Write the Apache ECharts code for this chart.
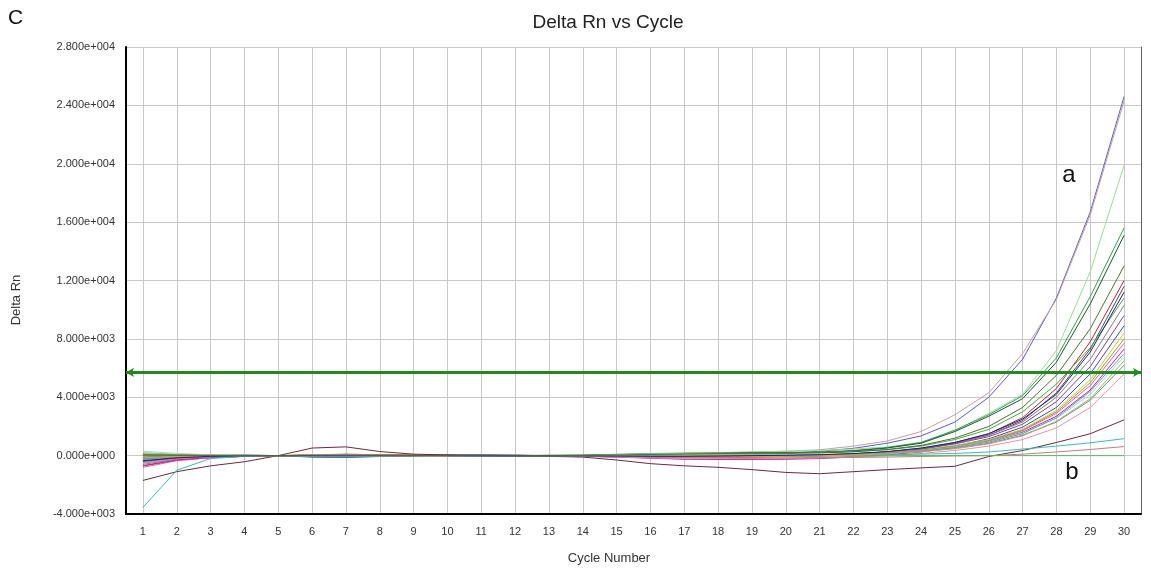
<!DOCTYPE html>
<html>
<head>
<meta charset="utf-8">
<script src="https://cdn.jsdelivr.net/npm/echarts@6/dist/echarts.min.js"></script>
<style>
html,body{margin:0;padding:0;background:#fff;}
#chart{width:1151px;height:569px;}
</style>
</head>
<body>
<div id="chart"></div>
<script>
// ---- data ----
const cycles = [1,2,3,4,5,6,7,8,9,10,11,12,13,14,15,16,17,18,19,20,21,22,23,24,25,26,27,28,29,30];
const yTicks = [-4000,0,4000,8000,12000,16000,20000,24000,28000];
const threshold = 5700;

const s01 = [-300,-100,0,50,0,-80,-100,-50,0,20,50,30,0,-50,-100,-80,-50,0,50,150,300,500,850,1350,2300,4000,6600,10800,16700,24600];
const s02 = [200,100,50,20,0,0,30,50,30,0,0,20,0,0,50,100,150,200,250,300,400,650,1000,1650,2800,4300,7000,10700,16500,24300];
const s03 = [-400,-150,-50,0,0,50,80,50,20,0,-20,0,20,50,100,150,200,200,250,300,350,450,600,900,1700,2900,4200,7200,12600,19900];
const s04 = [100,50,20,0,0,-30,-50,0,20,30,0,-20,-20,0,50,100,150,180,200,220,250,350,550,900,1750,2800,4100,6700,10900,15600];
const s05 = [-200,-80,-30,0,0,20,0,-20,0,10,0,0,10,30,80,120,150,150,180,200,220,320,520,850,1650,2700,3900,6400,10400,15100];
const s06 = [-700,-300,-150,-50,0,50,100,60,30,0,-30,-50,-20,0,-50,-100,-150,-150,-100,-50,0,100,250,500,900,1500,2600,4600,7800,12000];
const s07 = [-500,-200,-100,-30,0,0,-20,-30,0,20,0,-20,0,0,-30,-80,-100,-100,-80,-50,0,80,200,450,850,1400,2400,4300,7300,11600];
const s08 = [0,30,30,20,0,-50,-60,-30,0,0,20,0,-10,0,30,60,100,120,150,170,200,280,400,650,1100,1800,3000,4900,7400,10800];
const s09 = [-600,-250,-100,-50,0,30,50,30,0,-20,-30,0,20,20,0,-30,-50,-50,-30,0,50,120,250,480,850,1400,2300,4000,6600,10300];
const s10 = [-100,-30,0,0,0,-100,-120,-60,0,30,50,20,0,-20,-50,-80,-100,-100,-80,-60,-30,50,150,350,650,1150,1950,3300,5600,8900];
const s11 = [-300,-100,-50,0,0,20,30,20,0,-10,0,10,0,-20,-50,-50,-30,0,30,50,80,150,250,400,700,1100,1800,3100,5200,8400];
const s12 = [-800,-350,-150,-50,0,10,20,10,0,0,-20,-20,-10,-20,-80,-150,-200,-220,-220,-200,-150,-50,100,300,600,1000,1700,2900,4800,7700];
const s13 = [-700,-300,-120,-40,0,0,50,40,20,0,-20,-30,-20,-30,-100,-180,-250,-260,-260,-250,-200,-100,50,250,550,950,1600,2700,4500,7300];
const s14 = [300,150,50,20,0,0,-20,-20,0,0,20,20,0,0,60,120,150,130,100,80,60,100,200,350,600,950,1550,2550,4200,6800];
const s15 = [-200,-100,-50,0,0,30,20,0,0,10,20,0,0,-10,-40,-60,-50,-40,-20,0,30,80,160,300,500,850,1400,2300,3800,6200];
const s16 = [-500,-200,-80,-20,0,0,0,0,10,10,0,-10,-10,-30,-100,-150,-200,-200,-200,-180,-150,-100,0,150,350,650,1100,1900,3300,5600];
const s17 = [-1700,-1100,-700,-420,0,520,600,280,100,50,0,-50,-50,-100,-300,-550,-700,-800,-960,-1150,-1240,-1100,-960,-840,-730,-60,350,900,1500,2450];
const s18 = [-3550,-1000,-200,-50,0,0,30,20,0,0,-10,0,20,10,0,-30,-50,-50,-30,-20,0,30,60,100,150,250,450,650,880,1160];
const s19 = [-400,-150,-60,-20,0,20,30,20,0,0,0,-10,0,0,-50,-100,-120,-140,-150,-150,-140,-120,-100,-60,-20,0,100,250,420,620];
const s20 = [-100,-50,-20,0,0,-10,-20,-10,0,0,0,-10,-10,-20,-40,-50,-60,-60,-50,-40,-30,-20,-10,0,0,0,0,0,0,0];
const s21 = [-400,-150,-50,0,0,-30,-40,-20,0,20,30,20,0,-20,-40,-60,-60,-40,-20,0,40,120,250,450,800,1300,2150,3700,6100,9600];
const s22 = [100,60,30,10,0,-20,-30,-10,0,0,10,10,0,0,20,40,50,50,40,30,30,100,200,380,650,1050,1750,3000,5000,8000];
const s23 = [-250,-100,-40,0,0,-60,-80,-40,0,10,0,-10,0,0,-20,-40,-50,-40,-20,0,20,80,170,320,560,920,1500,2600,4400,7000];
const s24 = [-150,-60,-20,0,0,40,50,30,10,0,0,10,10,0,-30,-60,-80,-80,-60,-40,-20,40,130,260,470,800,1350,2350,3900,6500];
const s25 = [-350,-150,-50,-10,0,10,20,10,0,0,0,0,0,-10,-30,-50,-50,-30,0,20,60,140,280,520,900,1500,2500,4200,7100,11200];
const s26 = [50,20,10,0,0,-10,-10,0,10,0,-10,-10,0,10,40,80,120,140,160,170,190,260,420,700,1200,2000,3300,5500,8700,13000];

const seriesValues = [s01,s02,s03,s04,s05,s06,s07,s08,s09,s10,s11,s12,s13,s14,s15,s16,s17,s18,s19,s20,s21,s22,s23,s24,s25,s26];
const seriesColors = ['#5a5ad0','#c8a0a0','#98dc98','#30a050','#1a5a34','#c02040','#505050','#40b040','#808080','#3050c0',
  '#d8c820','#e060b0','#d02090','#90e0e0','#40a0a0','#e090c0','#702838','#30c0c0','#c08080','#60b860',
  '#8040c0','#a0a030','#60a0e0','#e0a040','#202080','#507030'];

function fmtSci(v){
  if (v === 0) return '0.000e+000';
  const a = Math.abs(v);
  const e = Math.floor(Math.log10(a) + 1e-9);
  const m = v / Math.pow(10, e);
  return m.toFixed(3) + 'e+' + String(e).padStart(3,'0');
}

const FONT = "'Liberation Sans', Arial, sans-serif";
const chart = echarts.init(document.getElementById('chart'), null, {renderer:'canvas'});

const series = seriesValues.map((vals, k) => ({
  type: 'line',
  data: cycles.map((c, i) => [c, vals[i]]),
  showSymbol: false,
  symbol: 'none',
  lineStyle: {width: 1, color: seriesColors[k]},
  itemStyle: {color: seriesColors[k]},
  silent: true,
  animation: false,
  z: 3
}));
series.push({
  type: 'line',
  data: [],
  silent: true,
  animation: false,
  z: 5,
  markLine: {
    silent: true,
    symbol: ['arrow','arrow'],
    symbolSize: [7, 8],
    label: {show: false},
    lineStyle: {color: '#1e8c1e', width: 3, type: 'solid'},
    data: [{yAxis: threshold}],
    animation: false
  }
});

chart.setOption({
  animation: false,
  backgroundColor: '#fff',
  grid: {left: 126, right: 10, top: 47, bottom: 55, containLabel: false},
  xAxis: {
    type: 'value', min: 0.5, max: 30.5,
    axisLine: {show: true, onZero: false, lineStyle: {color: '#000', width: 2}},
    axisTick: {show: false, customValues: cycles},
    axisLabel: {customValues: cycles, color: '#333', fontSize: 11, fontFamily: FONT, margin: 12},
    splitLine: {show: true, lineStyle: {color: '#c8c8c8', width: 1}}
  },
  yAxis: [{
    type: 'value', min: -4000, max: 28000, interval: 4000,
    axisLine: {show: true, onZero: false, lineStyle: {color: '#000', width: 2}},
    axisTick: {show: false},
    axisLabel: {color: '#333', fontSize: 11, fontFamily: FONT, margin: 11, formatter: fmtSci},
    splitLine: {show: true, lineStyle: {color: '#c8c8c8', width: 1}}
  },{
    type: 'value', min: -4000, max: 28000, interval: 4000, position: 'right',
    axisLine: {show: true, onZero: false, lineStyle: {color: '#606060', width: 1}},
    axisTick: {show: false}, axisLabel: {show: false}, splitLine: {show: false}
  }],
  graphic: [
    {type: 'text', left: 8, top: 8, style: {text: 'C', font: '21px ' + FONT, fill: '#111'}},
    {type: 'text', x: 608, y: 23, style: {text: 'Delta Rn vs Cycle', font: '19px ' + FONT, fill: '#222', align: 'center', verticalAlign: 'middle'}},
    {type: 'text', x: 16, y: 300, rotation: Math.PI/2, style: {text: 'Delta Rn', font: '13px ' + FONT, fill: '#333', align: 'center', verticalAlign: 'middle'}},
    {type: 'text', x: 609, y: 558, style: {text: 'Cycle Number', font: '13px ' + FONT, fill: '#333', align: 'center', verticalAlign: 'middle'}},
    {type: 'text', x: 1069, y: 175, z: 10, style: {text: 'a', font: '24px ' + FONT, fill: '#111', align: 'center', verticalAlign: 'middle'}},
    {type: 'text', x: 1072, y: 472, z: 10, style: {text: 'b', font: '24px ' + FONT, fill: '#111', align: 'center', verticalAlign: 'middle'}}
  ],
  series: series
});
</script>
</body>
</html>
